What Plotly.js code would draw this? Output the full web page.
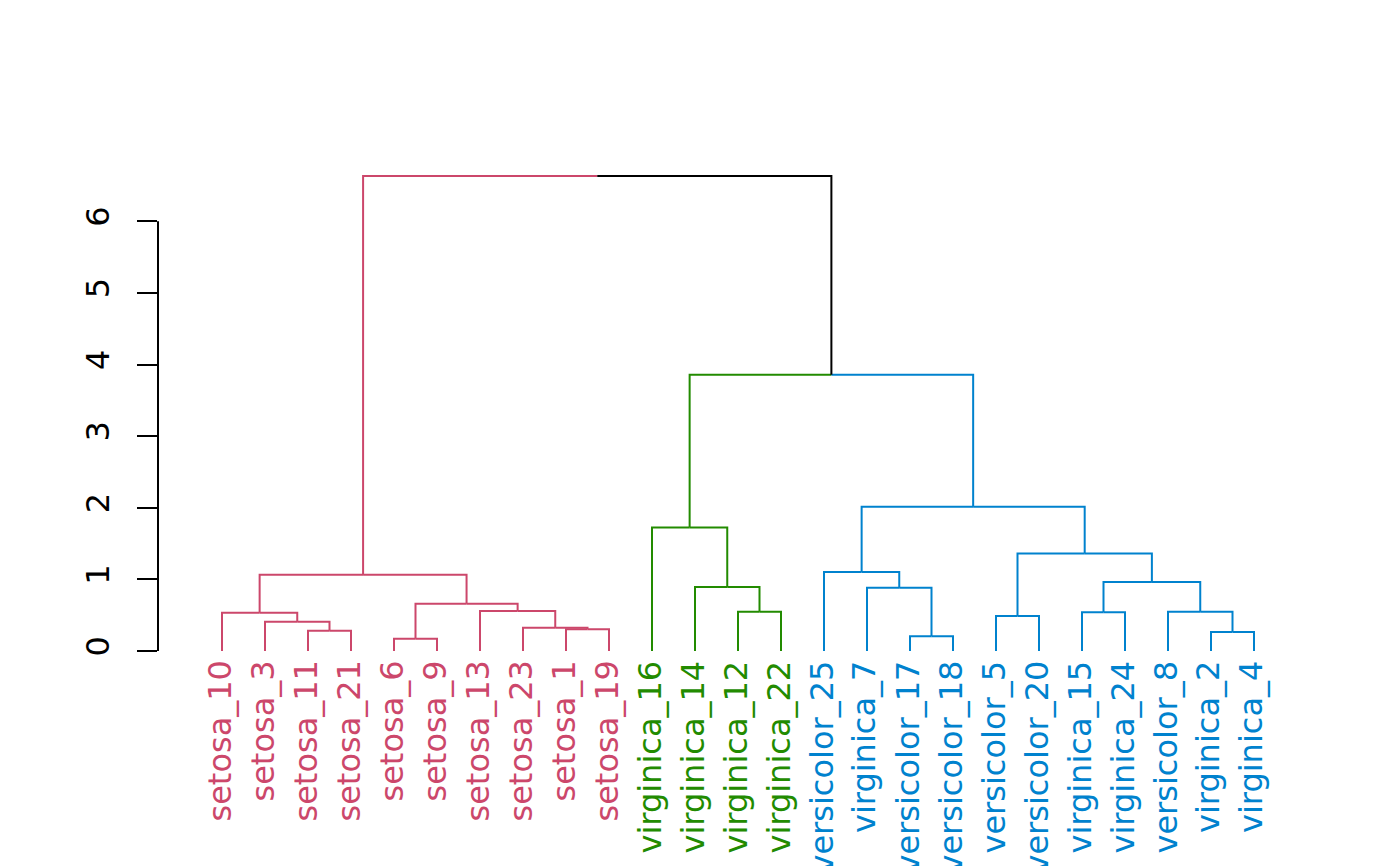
<!DOCTYPE html>
<html>
<head>
<meta charset="utf-8">
<script src="https://cdn.plot.ly/plotly-3.0.1.min.js"></script>
<style>html,body{margin:0;padding:0;background:#fff;}#chart{width:1400px;height:866px;}</style>
</head>
<body>
<div id="chart"></div>
<script>
// Leaves in display order
const leafLabels = ["setosa_10","setosa_3","setosa_11","setosa_21","setosa_6","setosa_9","setosa_13","setosa_23","setosa_1","setosa_19",
  "virginica_16","virginica_14","virginica_12","virginica_22",
  "versicolor_25","virginica_7","versicolor_17","versicolor_18","versicolor_5","versicolor_20","virginica_15","virginica_24","versicolor_8","virginica_2","virginica_4"];
// Cluster of each leaf (0 = pink, 1 = green, 2 = blue)
const leafCluster = [0,0,0,0,0,0,0,0,0,0, 1,1,1,1, 2,2,2,2,2,2,2,2,2,2,2];
const clusterColors = ["#CC476B","#228B00","#0082CE"];
const mixedColor = "#000000";
// hclust-style merges: negative = leaf position (1-based), positive = earlier merge (1-based)
const mergeLeft  = [-3,-2,-1,-5,-9,-8,-7, 4, 3,-13,-12,-11,-17,-16,-15,-19,-21,-24,-23,17,16,15,12, 9];
const mergeRight = [-4, 1, 2,-6,-10, 5, 6, 7, 8,-14, 10, 11,-18, 13, 14,-20,-22,-25, 18,19,20,21,22,23];
const mergeHeight = [0.283,0.41,0.535,0.172,0.302,0.325,0.558,0.66,1.065,0.549,0.893,1.726,0.205,0.884,1.102,0.488,0.540,0.265,0.549,0.963,1.363,2.014,3.856,6.632];
const yTicks = [0,1,2,3,4,5,6];

// compute node positions
const nodeX = [], nodeCl = [];
function xOf(c){ return c < 0 ? -c : nodeX[c-1]; }
function hOf(c){ return c < 0 ? 0 : mergeHeight[c-1]; }
function clOf(c){ return c < 0 ? leafCluster[-c-1] : nodeCl[c-1]; }
for (let i = 0; i < mergeLeft.length; i++) {
  const a = mergeLeft[i], b = mergeRight[i];
  nodeX.push((xOf(a) + xOf(b)) / 2);
  nodeCl.push(clOf(a) === clOf(b) ? clOf(a) : -1);
}
const segs = {};
function addSeg(color, xs, ys) {
  if (!segs[color]) segs[color] = {x: [], y: []};
  segs[color].x.push(...xs, null);
  segs[color].y.push(...ys, null);
}
for (let i = 0; i < mergeLeft.length; i++) {
  const px = nodeX[i], ph = mergeHeight[i];
  [mergeLeft[i], mergeRight[i]].forEach(c => {
    const cl = clOf(c);
    const col = cl < 0 ? mixedColor : clusterColors[cl];
    addSeg(col, [px, xOf(c), xOf(c)], [ph, ph, hOf(c)]);
  });
}
const traces = Object.keys(segs).map(col => ({
  type: "scatter", mode: "lines", x: segs[col].x, y: segs[col].y,
  line: {color: col, width: 2}, hoverinfo: "skip", showlegend: false, connectgaps: false
}));

const annotations = leafLabels.map((lab, i) => ({
  x: i + 1, y: 0, xref: "x", yref: "y", text: lab, showarrow: false,
  textangle: -90, xanchor: "center", yanchor: "top", yshift: -8, xshift: -3,
  font: {family: "DejaVu Sans", size: 32, color: clusterColors[leafCluster[i]]}
}));

const W = 1400, H = 866, L = 158, R = 40, T = 150, B = 190;
const pxPerX = 43, leaf1px = 222, y0px = 651, pxPerY = 71.62;
const xmin = 1 - (leaf1px - L) / pxPerX;
const xmax = xmin + (W - L - R) / pxPerX;
const ymax = (y0px - T) / pxPerY;
const ymin = -((H - B) - y0px) / pxPerY;

const layout = {
  width: W, height: H,
  margin: {l: L, r: R, t: T, b: B, pad: 0},
  paper_bgcolor: "#ffffff", plot_bgcolor: "#ffffff",
  font: {family: "DejaVu Sans", color: "#000000"},
  xaxis: {range: [xmin, xmax], visible: false, fixedrange: true},
  yaxis: {range: [ymin, ymax], showgrid: false, zeroline: false, showline: false,
    tickmode: "array", tickvals: yTicks, ticktext: yTicks.map(String),
    ticks: "outside", ticklen: 20, tickwidth: 2, tickcolor: "#000000",
    ticklabelstandoff: 15,
    tickangle: -90, tickfont: {family: "DejaVu Sans", size: 32, color: "#000000"},
    fixedrange: true},
  shapes: [{type: "line", xref: "paper", yref: "y", x0: 0, x1: 0, y0: yTicks[0], y1: yTicks[yTicks.length-1],
    line: {color: "#000000", width: 2}}],
  annotations: annotations,
  showlegend: false
};
Plotly.newPlot("chart", traces, layout, {displayModeBar: false, staticPlot: true});
</script>
</body>
</html>
